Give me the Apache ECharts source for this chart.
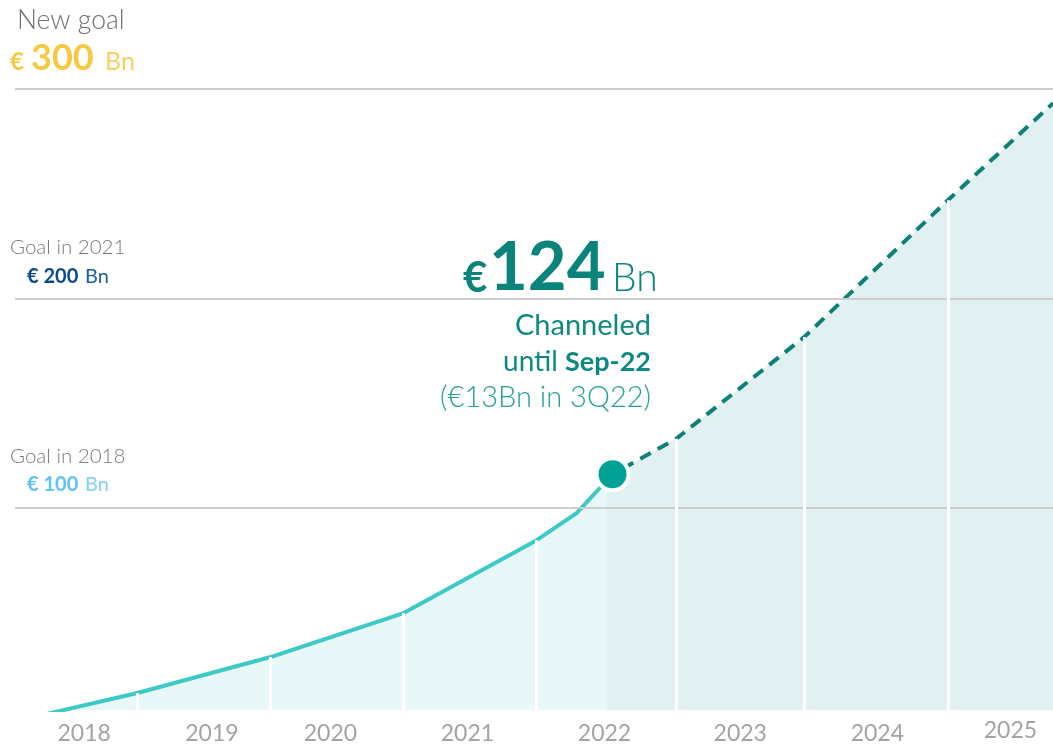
<!DOCTYPE html>
<html><head><meta charset="utf-8">
<script src="https://cdn.jsdelivr.net/npm/echarts@6/dist/echarts.min.js"></script>
<style>html,body{margin:0;padding:0;background:#fff}#c{width:1053px;height:745px}</style>
</head><body><div id="c"></div>
<script>
// ---- data (x in fractional years, y in € Bn) ----
const yearLabels = ['2018','2019','2020','2021','2022','2023','2024','2025'];
const yearLabelPos = [2018.52, 2019.48, 2020.37, 2021.40, 2022.43, 2023.45, 2024.48, 2025.48];
const actualX = [2018.00, 2018.92, 2019.92, 2020.92, 2021.92, 2022.22, 2022.49];
const actualY = [-2, 11.5, 28.7, 49.7, 84.5, 97.4, 116];
const projX = [2022.45, 2022.49, 2022.97, 2023.93, 2025.01, 2025.80];
const projY = [113, 116, 133, 181.5, 246.9, 293.2];
const dividerX = [2018.92, 2019.92, 2020.92, 2021.92, 2022.97, 2023.93, 2025.01];
const dividerY = [11.5, 28.7, 49.7, 84.5, 133, 181.5, 246.9];
const goalValues = [100, 200, 300];
const latestX = 2022.49, latestY = 116;
const X_MIN = 2018.0, X_MAX = 2025.8, Y_MIN = 3.4, Y_MAX = 300;

const zip = (a, b) => a.map((v, i) => [v, b[i]]);
const chart = echarts.init(document.getElementById('c'), null, {renderer: 'canvas'});

function txt(x, y, text, font, fill, align) {
  return {type: 'text', x: x, y: y, silent: true,
    style: {text: text, font: font, fill: fill, align: align || 'left', verticalAlign: 'middle',
      textAlign: align || 'left', textVerticalAlign: 'middle'}};
}

const option = {
  animation: false,
  grid: {left: 15, right: 0, top: 89, bottom: 35, containLabel: false},
  xAxis: {type: 'value', min: X_MIN, max: X_MAX, show: false},
  yAxis: {type: 'value', min: Y_MIN, max: Y_MAX, show: false},
  series: [
    {type: 'line', data: zip(actualX, actualY), symbol: 'none', silent: true, z: 1,
      lineStyle: {width: 0, opacity: 0}, areaStyle: {color: '#e8f8f8', opacity: 1}},
    {type: 'line', data: zip(projX, projY), symbol: 'none', silent: true, z: 1,
      lineStyle: {width: 0, opacity: 0}, areaStyle: {color: '#e1f0f0', opacity: 1}},
    {type: 'line', data: [], silent: true, z: 2,
      markLine: {silent: true, symbol: ['none', 'none'], label: {show: false},
        lineStyle: {color: '#cdcdcd', width: 2, type: 'solid'},
        emphasis: {disabled: true},
        data: goalValues.map(v => ({yAxis: v}))}},
    {type: 'line', data: zip(actualX, actualY), symbol: 'none', silent: true, z: 3,
      lineStyle: {color: '#3dc9c5', width: 4}},
    {type: 'line', data: zip(projX, projY), symbol: 'none', silent: true, z: 3,
      lineStyle: {color: '#0d8077', width: 4, type: [12, 8]}},
    {type: 'line', data: [], silent: true, z: 4,
      markLine: {silent: true, symbol: ['none', 'none'], label: {show: false},
        lineStyle: {color: '#ffffff', width: 3, type: 'solid', opacity: 1},
        emphasis: {disabled: true},
        data: dividerX.map((x, i) => [{coord: [x, Y_MIN]}, {coord: [x, dividerY[i]]}])}},
    {type: 'scatter', data: [[latestX, latestY]], symbolSize: 32, silent: true, z: 5,
      itemStyle: {color: '#00a296', borderColor: '#ffffff', borderWidth: 4, opacity: 1}},
    {type: 'scatter', silent: true, z: 5, symbolSize: 1,
      itemStyle: {color: 'rgba(0,0,0,0)'},
      data: yearLabelPos.map((x, i) => ({value: [x, Y_MIN], name: yearLabels[i],
        label: {distance: i === yearLabels.length - 1 ? 9 : 12}})),
      label: {show: true, position: 'bottom', formatter: p => p.name,
        fontFamily: 'Lato', fontSize: 23, color: '#8c8c8c', lineHeight: 23}}
  ],
  graphic: [
    txt(17, 20, 'New goal', '300 26.5px Lato', '#707070'),
    txt(10, 62, '€', 'bold 24px Lato', '#f6c944'),
    txt(31, 58, '300', 'bold 36px Lato', '#f6c944'),
    txt(105, 62, 'Bn', '400 25px Lato', '#f7d063'),
    txt(10, 247, 'Goal in 2021', '300 20.5px Lato', '#7a7a7a'),
    txt(27, 277, '€ 200', 'bold 20px Lato', '#0b4a8b'),
    txt(85, 277, 'Bn', '400 20px Lato', '#1f5e9c'),
    txt(10, 456, 'Goal in 2018', '300 20.5px Lato', '#7a7a7a'),
    txt(27, 485, '€ 100', 'bold 20px Lato', '#5cc3f7'),
    txt(85, 485, 'Bn', '400 20px Lato', '#7fd0f8'),
    txt(463, 278, '€', 'bold 42px Lato', '#0a847b'),
    txt(489, 268, '124', 'bold 67px Lato', '#0a847b'),
    txt(612, 278, 'Bn', '300 39px Lato', '#0a847b'),
    txt(651, 326, 'Channeled', '400 29px Lato', '#0e8980', 'right'),
    {type: 'text', x: 651, y: 362, silent: true,
      style: {text: '{r|until }{b|Sep-22}', align: 'right', verticalAlign: 'middle',
        textAlign: 'right', textVerticalAlign: 'middle',
        rich: {r: {font: '400 28px Lato', fill: '#0e8980', color: '#0e8980'},
               b: {font: 'bold 27px Lato', fill: '#0e8980', color: '#0e8980'}}}},
    txt(651, 398, '(€13Bn in 3Q22)', '300 29px Lato', '#24a096', 'right')
  ]
};
chart.setOption(option);
</script>
</body></html>
